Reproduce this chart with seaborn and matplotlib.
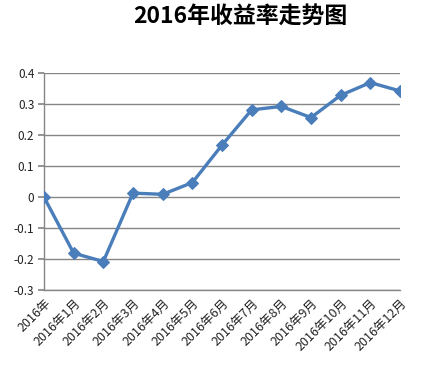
import matplotlib
matplotlib.use("Agg")
import matplotlib.pyplot as plt
import seaborn as sns
import pandas as pd

labels = ["2016年", "2016年1月", "2016年2月", "2016年3月", "2016年4月", "2016年5月",
          "2016年6月", "2016年7月", "2016年8月", "2016年9月", "2016年10月",
          "2016年11月", "2016年12月"]
values = [0.0, -0.181, -0.208, 0.013, 0.009, 0.047, 0.168, 0.282, 0.293,
          0.257, 0.329, 0.370, 0.343]
y_ticks = [-0.3, -0.2, -0.1, 0, 0.1, 0.2, 0.3, 0.4]
y_tick_labels = ["-0.3", "-0.2", "-0.1", "0", "0.1", "0.2", "0.3", "0.4"]
title = "2016年收益率走势图"

sns.set_theme(style="white")
plt.rcParams['font.family'] = ['Noto Sans CJK SC', 'DejaVu Sans']

df = pd.DataFrame({"label": labels, "value": values})

fig = plt.figure(figsize=(4.21, 3.65), dpi=100)
ax = fig.add_axes([44/421, 1-290/365, (400-44)/421, (290-73.3)/365])

sns.lineplot(data=df, x="label", y="value", ax=ax, sort=False,
             color="#4A7EBB", linewidth=2.4, marker="D", markersize=6,
             markeredgecolor="#4A7EBB", zorder=3)

ax.set_xlim(0, len(labels) - 1)
ax.set_ylim(-0.3, 0.4)
ax.set_yticks(y_ticks)
ax.set_yticklabels(y_tick_labels)
ax.set_xticks(range(len(labels)))
ax.set_xticklabels(labels, rotation=45, ha="right", rotation_mode="anchor")
ax.set_xlabel("")
ax.set_ylabel("")

ax.grid(axis="y", color="#868686", linewidth=1)
ax.set_axisbelow(True)
for s in ["top", "right"]:
    ax.spines[s].set_visible(False)
for s in ["left", "bottom"]:
    ax.spines[s].set_color("#868686")
    ax.spines[s].set_linewidth(1)
ax.tick_params(axis="y", which="major", left=True, length=4, color="#868686",
               labelsize=8.5, labelcolor="#222222", pad=3)
ax.tick_params(axis="x", which="major", bottom=False, length=0,
               labelsize=9, labelcolor="#222222", pad=5)

fig.text(240/421, 1-17/365, title, ha="center", va="center",
         fontsize=16.5, fontweight="bold", color="black")

fig.savefig("out.png", dpi=100, facecolor="white")
